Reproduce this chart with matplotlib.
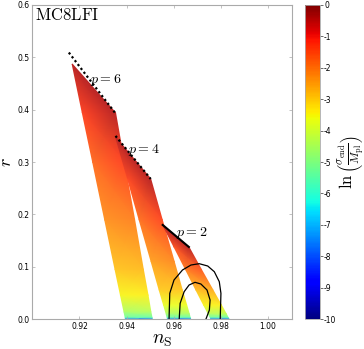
import numpy as np
import matplotlib
matplotlib.use("Agg")
import matplotlib.pyplot as plt
from matplotlib.colors import ListedColormap

plt.rcParams['mathtext.fontset'] = 'cm'
plt.rcParams['axes.unicode_minus'] = False

# band vertices: rows from the tip down to r=0, left / right edge, ln(sigma_end/M_pl)
r_p6 = [0.487, 0.394, 0.30, 0.19, 0.095, 0.046, 0.014, 0.003, 0.0]
ns_p6_left = [0.9169, 0.9212, 0.9256, 0.9307, 0.9351, 0.9374, 0.9389, 0.9394, 0.9395]
ns_p6_right = [0.9169, 0.9353, 0.9390, 0.9434, 0.9471, 0.9491, 0.9503, 0.9508, 0.9509]
val_p6_left = [-0.4, -1.3, -1.8, -2.3, -2.9, -3.5, -4.5, -5.5, -8.0]
val_p6_right = [-0.4, -0.4, -1.3, -2.1, -2.8, -3.4, -4.4, -5.5, -8.0]

r_p4 = [0.348, 0.268, 0.19, 0.11, 0.056, 0.027, 0.010, 0.003, 0.0]
ns_p4_left = [0.9353, 0.9404, 0.9453, 0.9504, 0.9538, 0.9557, 0.9568, 0.9572, 0.9574]
ns_p4_right = [0.9353, 0.9502, 0.9551, 0.9602, 0.9636, 0.9655, 0.9666, 0.9670, 0.9672]
val_p4_left = [-0.4, -1.4, -1.9, -2.5, -3.0, -3.7, -4.6, -5.5, -8.0]
val_p4_right = [-0.4, -0.4, -1.4, -2.2, -2.9, -3.6, -4.5, -5.5, -8.0]

r_p2 = [0.180, 0.138, 0.095, 0.056, 0.027, 0.010, 0.003, 0.0]
ns_p2_left = [0.9553, 0.9601, 0.9650, 0.9694, 0.9727, 0.9747, 0.9755, 0.9758]
ns_p2_right = [0.9553, 0.9664, 0.9717, 0.9766, 0.9802, 0.9823, 0.9831, 0.9835]
val_p2_left = [-0.4, -1.5, -2.0, -2.8, -3.5, -4.4, -5.5, -8.0]
val_p2_right = [-0.4, -0.4, -1.6, -2.6, -3.4, -4.3, -5.5, -8.0]

# upper edges (large-N limit)
edge_p6_ns = [0.9155, 0.9353]
edge_p6_r = [0.5088, 0.3926]
edge_p4_ns = [0.9353, 0.9502]
edge_p4_r = [0.3498, 0.2677]
edge_p2_ns = [0.9553, 0.9664]
edge_p2_r = [0.1800, 0.1380]

# Planck contours
outer_ns = [0.9580, 0.9583, 0.9601, 0.9637, 0.9673, 0.9708, 0.9744, 0.9772, 0.9793, 0.9800, 0.9797]
outer_r = [0.0, 0.0496, 0.0750, 0.0941, 0.1036, 0.1061, 0.1017, 0.0908, 0.0718, 0.0496, 0.0]
inner_ns = [0.9623, 0.9627, 0.9644, 0.9665, 0.9690, 0.9715, 0.9741, 0.9754, 0.9751, 0.9736]
inner_r = [0.0, 0.0305, 0.0527, 0.0655, 0.0706, 0.0674, 0.0559, 0.0368, 0.0177, 0.0]

labels = ["$p=6$", "$p=4$", "$p=2$"]
label_ns = [0.9246, 0.9408, 0.9608]
label_r = [0.4567, 0.3231, 0.1647]

fig = plt.figure(figsize=(3.64, 3.49), dpi=100)
ax = fig.add_axes([0.0887, 0.085, 0.7126, 0.9015])
cax = fig.add_axes([0.839, 0.085, 0.040, 0.9015])

cmap = plt.get_cmap('jet')
# scattered points leave white gaps, so the filled bands look a bit paler
pale = cmap(np.linspace(0, 1, 256))
pale[:, :3] = pale[:, :3] * 0.85 + 0.15
pale_cmap = ListedColormap(pale)

bands = [
    (ns_p6_left, ns_p6_right, r_p6, val_p6_left, val_p6_right),
    (ns_p4_left, ns_p4_right, r_p4, val_p4_left, val_p4_right),
    (ns_p2_left, ns_p2_right, r_p2, val_p2_left, val_p2_right),
]
for nl, nr, rr, vl, vr in bands:
    X = np.column_stack([nl, nr])
    Y = np.column_stack([rr, rr])
    C = np.column_stack([vl, vr])
    ax.pcolormesh(X, Y, C, shading='gouraud', cmap=pale_cmap, vmin=-10, vmax=0)

for xs, ys in [(edge_p6_ns, edge_p6_r), (edge_p4_ns, edge_p4_r)]:
    ax.plot(xs, ys, color='k', lw=1.6, ls=(0, (1, 1.2)))
ax.plot(edge_p2_ns, edge_p2_r, color='k', lw=1.5)

ax.plot(outer_ns, outer_r, color='k', lw=0.9)
ax.plot(inner_ns, inner_r, color='k', lw=0.9)

for t, x, y in zip(labels, label_ns, label_r):
    ax.text(x, y, t, fontsize=10, va='center', ha='left')

ax.text(0.012, 0.995, r'$\rm MC8LFI$', transform=ax.transAxes, fontsize=12,
        va='top', ha='left')

ax.set_xlim(0.90, 1.01)
ax.set_ylim(0.0, 0.6)
ax.set_xticks([0.92, 0.94, 0.96, 0.98, 1.00])
ax.set_xticklabels(["0.92", "0.94", "0.96", "0.98", "1.00"])
ax.set_yticks([0.0, 0.1, 0.2, 0.3, 0.4, 0.5, 0.6])
ax.set_yticklabels(["0.0", "0.1", "0.2", "0.3", "0.4", "0.5", "0.6"])
ax.tick_params(direction='in', length=2, width=0.5, color='#aaaaaa',
               labelsize=5.5, top=True, right=True, pad=2)
for s in ax.spines.values():
    s.set_color('#aaaaaa')
    s.set_linewidth(0.8)
ax.set_xlabel(r'$n_{\rm S}$', fontsize=14, labelpad=-1)
ax.set_ylabel(r'$r$', fontsize=13, labelpad=2)

sm = plt.cm.ScalarMappable(cmap=cmap, norm=plt.Normalize(-10, 0))
cb = fig.colorbar(sm, cax=cax, ticks=list(range(0, -11, -1)))
cb.outline.set_edgecolor('#aaaaaa')
cb.outline.set_linewidth(0.6)
cax.tick_params(length=2, width=0.5, labelsize=5.5, pad=1, color='#333333')
cb.set_label(r'$\ln\left(\frac{\sigma_{\rm end}}{M_{\rm pl}}\right)$', fontsize=12, labelpad=0)

fig.savefig("out.png", dpi=100)
